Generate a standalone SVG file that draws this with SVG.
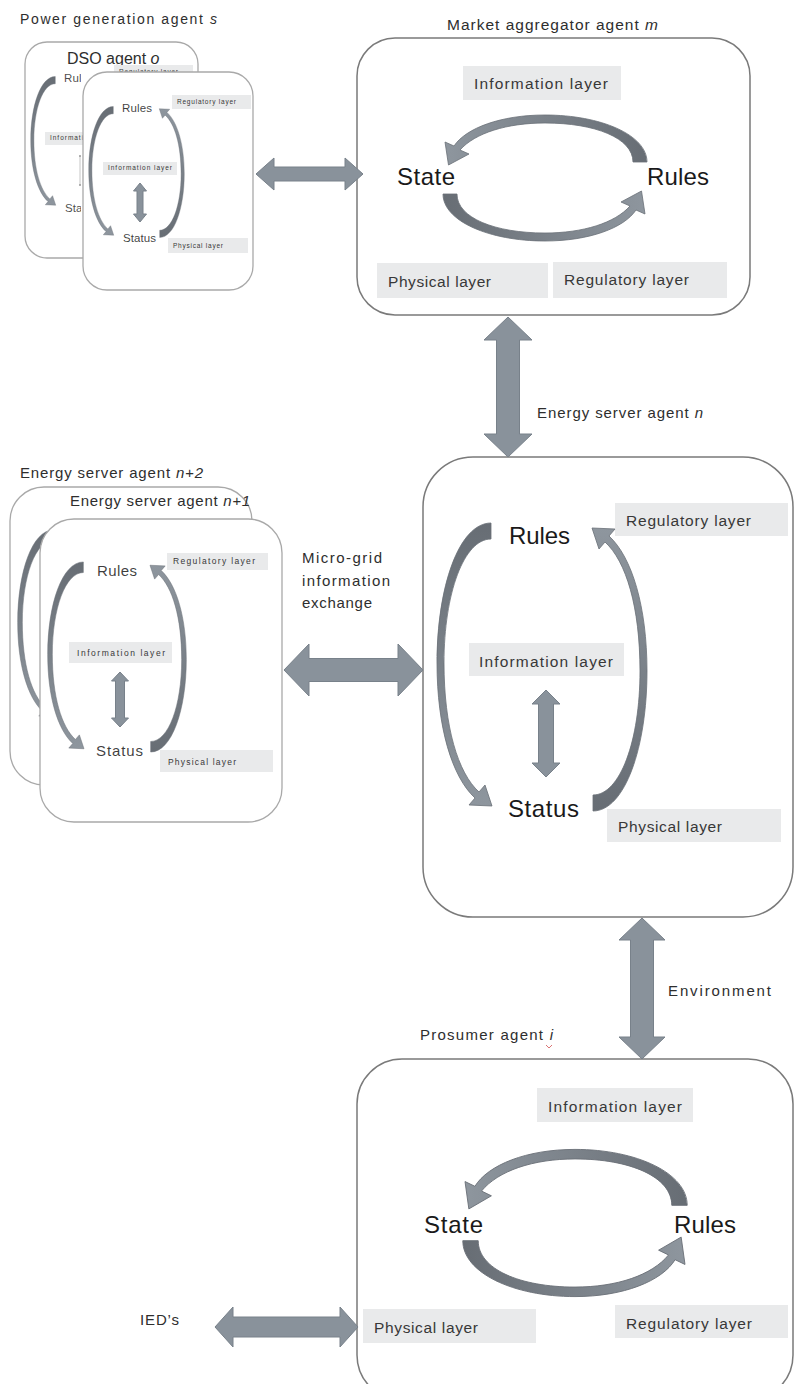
<svg xmlns="http://www.w3.org/2000/svg" xmlns:xlink="http://www.w3.org/1999/xlink" width="795" height="1384" viewBox="0 0 795 1384">
  <style>
    text { font-family: "Liberation Sans", Arial, sans-serif; }
    .box { fill: #ffffff; stroke: #7a7a7a; stroke-width: 1.5; }
    .box-light { fill: #ffffff; stroke: #a9a9a9; stroke-width: 1.3; }
    .layer { fill: #e9eaeb; }
    .lt { fill: #383838; }
    .title { fill: #2e2e2e; }
    .big { fill: #1a1a1a; }
    .conn { fill: #89929b; stroke: #78818a; stroke-width: 1; }
  </style>
  <defs>
    <linearGradient id="gH" x1="1" y1="0" x2="0" y2="0">
      <stop offset="0" stop-color="#676d74"/>
      <stop offset="1" stop-color="#8e969e"/>
    </linearGradient>
    <linearGradient id="gV" x1="0" y1="0" x2="0" y2="1">
      <stop offset="0" stop-color="#676d74"/>
      <stop offset="1" stop-color="#8e969e"/>
    </linearGradient>
    <!-- curved arrow of the State/Rules cycle, thick end on the right -->
    <path id="hArc" fill="url(#gH)" stroke="#6a7077" stroke-width="0.8"
      d="M 102,-14 C 102,-41 56,-61 0,-61 C -44,-61 -79,-48 -91,-30 L -100,-34 L -96.5,-11 L -76,-22 L -85,-26 C -70,-43 -38,-53 0,-53 C 50,-53 88,-38 88,-14 Z"/>
    <!-- curved arrow of the Rules/Status cycle, thick end at the top -->
    <path id="vArc" fill="url(#gV)" stroke="#6a7077" stroke-width="0.8"
      d="M -51,-144 C -83,-144 -105,-80 -105,-4 C -105,60 -90,110 -67,131 L -73,138 L -50,139 L -57,118 L -63,125 C -84,106 -98,60 -98,-4 C -98,-74 -78,-128 -51,-128 Z"/>
    <clipPath id="dsoBackText">
      <rect x="0" y="0" width="81" height="300"/>
    </clipPath>
  </defs>

  <rect width="795" height="1384" fill="#ffffff"/>

  <!-- Power generation / DSO stack -->
  <g id="power-generation-agent">
    <text x="20" y="24" class="title" font-size="14" textLength="197">Power generation agent <tspan font-style="italic">s</tspan></text>
  </g>
  <g id="dso-agent">
    <rect class="box-light" x="25" y="42" width="173" height="216" rx="22"/>
    <text x="67" y="64" class="title" font-size="16">DSO agent <tspan font-style="italic">o</tspan></text>
    <rect class="layer" x="114" y="65" width="79" height="14"/>
    <text x="119" y="74" class="lt" font-size="6.5" textLength="59">Regulatory layer</text>
    <rect class="layer" x="45" y="132" width="74" height="13"/>
    <text x="50" y="140" class="lt" font-size="6.5" textLength="64">Information layer</text>
    <use xlink:href="#vArc" transform="translate(78.5,142) scale(0.455)"/>
    <line x1="80" y1="156" x2="80" y2="185" stroke="#b8b8b8" stroke-width="0.8"/>
    <circle cx="80" cy="156" r="1" fill="#9a9a9a"/>
    <circle cx="80" cy="185" r="1" fill="#9a9a9a"/>
    <g clip-path="url(#dsoBackText)">
      <text x="64" y="82" class="big" font-size="11.5" textLength="30" fill-opacity="0.8">Rules</text>
      <text x="65" y="212" class="big" font-size="11.5" textLength="33" fill-opacity="0.8">Status</text>
    </g>
  </g>
  <g id="dso-agent-front">
    <rect class="box-light" x="83" y="72" width="170" height="218" rx="24"/>
    <rect class="layer" x="172" y="95" width="79" height="14"/>
    <text x="177" y="104" class="lt" font-size="6.5" textLength="59">Regulatory layer</text>
    <rect class="layer" x="103" y="162" width="74" height="13"/>
    <text x="108" y="170" class="lt" font-size="6.5" textLength="64">Information layer</text>
    <rect class="layer" x="168" y="238" width="80" height="15"/>
    <text x="173" y="248" class="lt" font-size="6.5" textLength="50">Physical layer</text>
    <use xlink:href="#vArc" transform="translate(136.5,172) scale(0.455)"/>
    <use xlink:href="#vArc" transform="translate(136.5,172) scale(0.455) rotate(180)"/>
    <polygon class="conn" points="140,183 146.5,191 143,191 143,214 146.5,214 140,222 133.5,214 137,214 137,191 133.5,191"/>
    <text x="122" y="112" class="big" font-size="11.5" textLength="30" fill-opacity="0.85">Rules</text>
    <text x="123" y="242" class="big" font-size="11.5" textLength="33" fill-opacity="0.85">Status</text>
  </g>

  <!-- Market aggregator -->
  <g id="market-aggregator-agent">
    <text x="447" y="30" class="title" font-size="15.5" textLength="211">Market aggregator agent <tspan font-style="italic">m</tspan></text>
    <rect class="box" x="357" y="38" width="393" height="277" rx="38"/>
    <rect class="layer" x="463" y="66" width="158" height="34"/>
    <text x="474" y="89" class="lt" font-size="15.5" textLength="134">Information layer</text>
    <use xlink:href="#hArc" transform="translate(545,176)"/>
    <use xlink:href="#hArc" transform="translate(545,180) rotate(180)"/>
    <text x="397" y="185" class="big" font-size="24" textLength="58">State</text>
    <text x="647" y="185" class="big" font-size="24" textLength="62">Rules</text>
    <rect class="layer" x="377" y="263" width="171" height="35"/>
    <text x="388" y="287" class="lt" font-size="15.5" textLength="103">Physical layer</text>
    <rect class="layer" x="553" y="262" width="174" height="36"/>
    <text x="564" y="285" class="lt" font-size="15.5" textLength="125">Regulatory layer</text>
  </g>

  <!-- Energy server n -->
  <g id="energy-server-agent-n">
    <text x="537" y="418" class="title" font-size="15" textLength="166">Energy server agent <tspan font-style="italic">n</tspan></text>
    <rect class="box" x="423" y="457" width="370" height="460" rx="50"/>
    <rect class="layer" x="615" y="503" width="173" height="33"/>
    <text x="626" y="526" class="lt" font-size="15.5" textLength="125">Regulatory layer</text>
    <use xlink:href="#vArc" transform="translate(542,667)"/>
    <use xlink:href="#vArc" transform="translate(542,667) rotate(180)"/>
    <text x="509" y="544" class="big" font-size="24" textLength="61">Rules</text>
    <rect class="layer" x="469" y="643" width="155" height="33"/>
    <text x="479" y="667" class="lt" font-size="15.5" textLength="134">Information layer</text>
    <polygon class="conn" points="546,690 560,704 553.5,704 553.5,763 560,763 546,777 532,763 538.5,763 538.5,704 532,704"/>
    <text x="508" y="817" class="big" font-size="24" textLength="71">Status</text>
    <rect class="layer" x="607" y="809" width="174" height="33"/>
    <text x="618" y="832" class="lt" font-size="15.5" textLength="104">Physical layer</text>
  </g>

  <!-- Energy server stack n+2 / n+1 -->
  <g id="energy-server-agent-n2">
    <text x="20" y="478" class="title" font-size="15" textLength="183">Energy server agent <tspan font-style="italic">n+2</tspan></text>
    <rect class="box-light" x="10" y="487" width="242" height="298" rx="34"/>
    <use xlink:href="#vArc" transform="translate(87,625) scale(0.66)"/>
  </g>
  <g id="energy-server-agent-n1">
    <rect class="box-light" x="40" y="519" width="242" height="303" rx="34"/>
    <text x="70" y="506" class="title" font-size="15" textLength="180">Energy server agent <tspan font-style="italic">n+1</tspan></text>
    <rect class="layer" x="167" y="553" width="101" height="17"/>
    <text x="173" y="564" class="lt" font-size="8.5" textLength="82">Regulatory layer</text>
    <use xlink:href="#vArc" transform="translate(117,657) scale(0.66)"/>
    <use xlink:href="#vArc" transform="translate(117,657) scale(0.66) rotate(180)"/>
    <text x="97" y="576" class="big" font-size="15" textLength="40" fill-opacity="0.85">Rules</text>
    <rect class="layer" x="69" y="642" width="103" height="21"/>
    <text x="77" y="656" class="lt" font-size="8.5" textLength="88">Information layer</text>
    <polygon class="conn" points="120,672 128.5,681 124.5,681 124.5,718 128.5,718 120,727 111.5,718 115.5,718 115.5,681 111.5,681"/>
    <text x="96" y="756" class="big" font-size="15" textLength="47" fill-opacity="0.85">Status</text>
    <rect class="layer" x="160" y="750" width="113" height="22"/>
    <text x="168" y="765" class="lt" font-size="8.5" textLength="68">Physical layer</text>
  </g>

  <!-- Prosumer -->
  <g id="prosumer-agent-i">
    <text x="420" y="1040" class="title" font-size="15" textLength="133">Prosumer agent <tspan font-style="italic">i</tspan></text>
    <path d="M546,1045 l3,3 l3,-3" fill="none" stroke="#d05050" stroke-width="0.8"/>
    <rect class="box" x="357" y="1059" width="436" height="341" rx="45"/>
    <rect class="layer" x="537" y="1088" width="156" height="34"/>
    <text x="548" y="1112" class="lt" font-size="15.5" textLength="134">Information layer</text>
    <use xlink:href="#hArc" transform="translate(575,1222) scale(1.1,1.19)"/>
    <use xlink:href="#hArc" transform="translate(575,1224) scale(1.1,1.19) rotate(180)"/>
    <text x="424" y="1233" class="big" font-size="24" textLength="59">State</text>
    <text x="674" y="1233" class="big" font-size="24" textLength="62">Rules</text>
    <rect class="layer" x="363" y="1309" width="173" height="34"/>
    <text x="374" y="1333" class="lt" font-size="15.5" textLength="104">Physical layer</text>
    <rect class="layer" x="615" y="1305" width="173" height="33"/>
    <text x="626" y="1329" class="lt" font-size="15.5" textLength="126">Regulatory layer</text>
  </g>

  <!-- Connectors between agents -->
  <g id="connectors">
    <polygon class="conn" points="256,174 274,158 274,167 345,167 345,158 363,174 345,190 345,181 274,181 274,190"/>
    <polygon class="conn" points="508,317 532,340 519.5,340 519.5,434 532,434 508,457 484,434 496.5,434 496.5,340 484,340"/>
    <polygon class="conn" points="284,670 309,644 309,658.5 398,658.5 398,644 423,670 398,696 398,681.5 309,681.5 309,696"/>
    <polygon class="conn" points="642,918 665,940 653.5,940 653.5,1037 665,1037 642,1059 619,1037 630.5,1037 630.5,940 619,940"/>
    <polygon class="conn" points="215,1327 233,1307 233,1317 340,1317 340,1307 358,1327 340,1347 340,1337 233,1337 233,1347"/>
  </g>

  <!-- Connector labels -->
  <g id="connector-labels">
    <text class="title" font-size="15" x="302" y="563" textLength="80">Micro-grid</text>
    <text class="title" font-size="15" x="302" y="586" textLength="88">information</text>
    <text class="title" font-size="15" x="302" y="608" textLength="70">exchange</text>
    <text class="title" font-size="15" x="668" y="996" textLength="103">Environment</text>
    <text class="title" font-size="15" x="140" y="1325" textLength="39">IED’s</text>
  </g>
</svg>
